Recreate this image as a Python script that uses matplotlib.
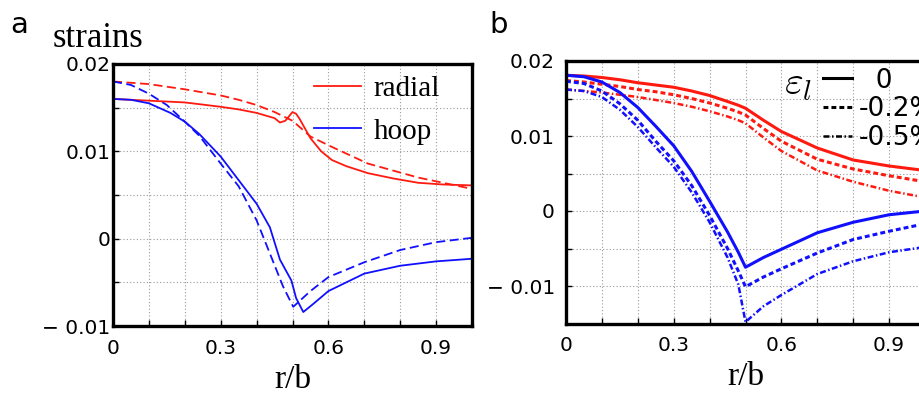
import matplotlib
matplotlib.use("Agg")
import matplotlib.pyplot as plt
from matplotlib.lines import Line2D

plt.rcParams['mathtext.fontset'] = 'cm'

# ---- panel a: numerical (solid) vs analytical (dashed) ----
r_rad_num = [0, 0.1, 0.2, 0.3, 0.35, 0.4, 0.45, 0.465, 0.48, 0.49, 0.5, 0.51, 0.52,
             0.55, 0.58, 0.61, 0.65, 0.71, 0.78, 0.85, 0.92, 1.0]
rad_num = [0.0160, 0.0158, 0.0156, 0.0151, 0.0148, 0.0144, 0.0138, 0.0133, 0.0135,
           0.0140, 0.0145, 0.0143, 0.0137, 0.0115, 0.0100, 0.0090, 0.0083, 0.0075,
           0.0069, 0.0064, 0.0062, 0.0061]

r_rad_an = [0, 0.1, 0.2, 0.3, 0.35, 0.4, 0.45, 0.5, 0.55, 0.61, 0.71, 0.85, 1.0]
rad_an = [0.0180, 0.0177, 0.0171, 0.0164, 0.0159, 0.0153, 0.0145, 0.0135, 0.0117,
          0.0105, 0.0086, 0.0070, 0.0057]

r_hoop_num = [0, 0.05, 0.1, 0.16, 0.2, 0.24, 0.3, 0.35, 0.4, 0.437, 0.465, 0.497,
              0.51, 0.53, 0.557, 0.6, 0.7, 0.8, 0.9, 1.0]
hoop_num = [0.0160, 0.0159, 0.0155, 0.0144, 0.0134, 0.0120, 0.0094, 0.0067, 0.0040,
            0.0013, -0.0024, -0.0048, -0.0068, -0.0084, -0.0075, -0.0060, -0.0040,
            -0.0031, -0.0026, -0.0023]

r_hoop_an = [0, 0.05, 0.1, 0.15, 0.2, 0.24, 0.3, 0.35, 0.4, 0.437, 0.474, 0.502,
             0.55, 0.6, 0.7, 0.8, 0.9, 1.0]
hoop_an = [0.0180, 0.0176, 0.0166, 0.0153, 0.0134, 0.0118, 0.0086, 0.0060, 0.0021,
           -0.0017, -0.0055, -0.0078, -0.0060, -0.0044, -0.0027, -0.0013, -0.0004, 0.0001]

# ---- panel b: effect of longitudinal strain eps_l ----
r_b = [0, 0.05, 0.1, 0.15, 0.2, 0.25, 0.3, 0.35, 0.4, 0.45, 0.48, 0.5, 0.55, 0.6,
       0.7, 0.8, 0.9, 1.0]
rad_0 = [0.0181, 0.0180, 0.0178, 0.0175, 0.0171, 0.0168, 0.0165, 0.0160, 0.0154,
         0.0146, 0.0141, 0.0137, 0.0121, 0.0106, 0.0084, 0.0068, 0.0060, 0.0054]
rad_02 = [0.0174, 0.0172, 0.0169, 0.0166, 0.0162, 0.0159, 0.0155, 0.0150, 0.0144,
          0.0137, 0.0132, 0.0128, 0.0110, 0.0093, 0.0069, 0.0056, 0.0047, 0.0039]
rad_05 = [0.0162, 0.0160, 0.0158, 0.0155, 0.0152, 0.0148, 0.0144, 0.0139, 0.0133,
          0.0126, 0.0121, 0.0117, 0.0098, 0.0080, 0.0054, 0.0039, 0.0027, 0.0018]
hoop_0 = [0.0181, 0.0179, 0.0172, 0.0158, 0.0138, 0.0113, 0.0087, 0.0053, 0.0013,
          -0.0028, -0.0055, -0.0075, -0.0062, -0.0051, -0.0029, -0.0015, -0.0005, 0.0]
hoop_02 = [0.0173, 0.0170, 0.0160, 0.0143, 0.0121, 0.0093, 0.0067, 0.0034, -0.0006,
           -0.0050, -0.0080, -0.0101, -0.0088, -0.0077, -0.0056, -0.0038, -0.0027, -0.0017]
hoop_05 = [0.0162, 0.0160, 0.0152, 0.0135, 0.0112, 0.0085, 0.0059, 0.0025, -0.0015,
           -0.0062, -0.0098, -0.0148, -0.0127, -0.0112, -0.0084, -0.0067, -0.0055, -0.0048]

eps_labels = ['  0', '-0.2%', '-0.5%']

x_ticks = [0, 0.3, 0.6, 0.9]
x_ticklabels = ['0', '0.3', '0.6', '0.9']
y_ticks = [-0.01, 0, 0.01, 0.02]
y_ticklabels = ['\u2212 0.01', '0', '0.01', '0.02']

RED = '#ff1a10'
BLUE = '#1010ff'
serif = 'Liberation Serif'
sans = 'DejaVu Sans'


def style_axis(ax, ylim, ypad):
    ax.set_xlim(0, 1)
    ax.set_ylim(*ylim)
    ax.set_xticks(x_ticks)
    ax.set_xticklabels(x_ticklabels, fontfamily=sans, fontsize=14.5)
    ax.set_xticks([i / 10 for i in range(11)], minor=True)
    ax.set_yticks(y_ticks)
    ax.set_yticklabels(y_ticklabels, fontfamily=sans, fontsize=14.5)
    n = int(round((ylim[1] - ylim[0]) / 0.005))
    ax.set_yticks([ylim[0] + 0.005 * i for i in range(n + 1)], minor=True)
    ax.tick_params(axis='x', which='both', direction='in', length=4, width=1, pad=9)
    ax.tick_params(axis='y', which='both', direction='in', length=4, width=1, pad=ypad)
    ax.grid(True, which='both', linestyle=(0, (1, 2)), color='#999999', linewidth=0.8)
    for sp in ax.spines.values():
        sp.set_linewidth(2.4)
    ax.set_xlabel('r/b', fontfamily=serif, fontsize=24, labelpad=5)


fig = plt.figure(figsize=(9.2, 3.95), dpi=100)
ax_a = fig.add_axes([113 / 920, 1 - 326 / 395, 359 / 920, 262 / 395])
ax_b = fig.add_axes([566 / 920, 1 - 323.5 / 395, 359 / 920, 262.5 / 395])

# panel a
ax_a.plot(r_rad_an, rad_an, color=RED, lw=1.3, dashes=(5, 2.5))
ax_a.plot(r_hoop_an, hoop_an, color=BLUE, lw=1.3, dashes=(5, 2.5))
ax_a.plot(r_rad_num, rad_num, color=RED, lw=1.3, label='radial')
ax_a.plot(r_hoop_num, hoop_num, color=BLUE, lw=1.3, label='hoop')
style_axis(ax_a, (-0.01, 0.02), 2)
ax_a.legend(loc='upper left', bbox_to_anchor=(0.56, 0.955), frameon=False,
            prop={'family': serif, 'size': 21}, handlelength=1.6, handletextpad=0.45,
            labelspacing=0.55, borderpad=0, borderaxespad=0)

# panel b
lw_b = 2.2
ax_b.plot(r_b, rad_0, color=RED, lw=lw_b)
ax_b.plot(r_b, rad_02, color=RED, lw=lw_b, dashes=(1.6, 1.0))
ax_b.plot(r_b, rad_05, color=RED, lw=1.8, dashes=(2.4, 1.0, 0.6, 1.0))
ax_b.plot(r_b, hoop_0, color=BLUE, lw=lw_b)
ax_b.plot(r_b, hoop_02, color=BLUE, lw=lw_b, dashes=(1.6, 1.0))
ax_b.plot(r_b, hoop_05, color=BLUE, lw=1.8, dashes=(2.4, 1.0, 0.6, 1.0))
style_axis(ax_b, (-0.015, 0.02), 8)

handles = [Line2D([], [], color='black', lw=lw_b),
           Line2D([], [], color='black', lw=lw_b, dashes=(1.6, 1.0)),
           Line2D([], [], color='black', lw=1.8, dashes=(2.4, 1.0, 0.6, 1.0))]
ax_b.legend(handles, eps_labels, loc='upper left', bbox_to_anchor=(0.716, 0.975),
            frameon=False, prop={'family': sans, 'size': 19}, handlelength=1.1,
            handletextpad=0.25, labelspacing=0.1, borderpad=0, borderaxespad=0)
ax_b.text(0.646, 0.916, r'$\varepsilon_l$', transform=ax_b.transAxes, fontsize=29,
          ha='center', va='center')

fig.text(10 / 920, 1 - 33 / 395, 'a', fontfamily=sans, fontsize=21, va='baseline')
fig.text(489 / 920, 1 - 33 / 395, 'b', fontfamily=sans, fontsize=21, va='baseline')
fig.text(53 / 920, 1 - 47 / 395, 'strains', fontfamily=serif, fontsize=25, va='baseline')

fig.savefig('out.png', dpi=100)
